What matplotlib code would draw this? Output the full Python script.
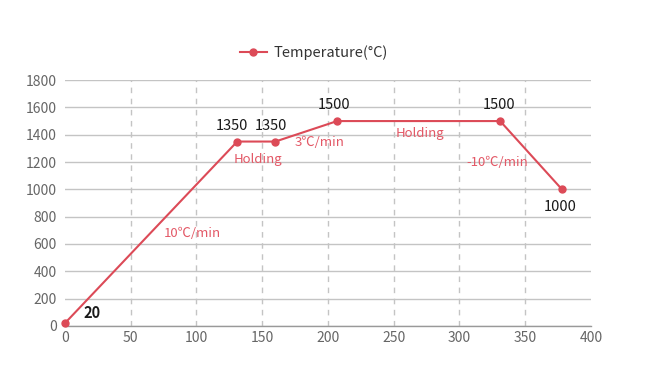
import numpy as np
import matplotlib
matplotlib.use("Agg")
import matplotlib.pyplot as plt

plt.rcParams['font.family'] = ['Noto Sans CJK SC', 'DejaVu Sans']

# data
time_min = [0, 131, 160, 207, 331, 378]
temperature = [20, 1350, 1350, 1500, 1500, 1000]
point_labels = ["20", "1350", "1350", "1500", "1500", "1000"]

# stage notes: (text, x, y)
stage_notes = [
    ("10℃/min", 97, 680),
    ("Holding", 147, 1222),
    ("3℃/min", 194, 1346),
    ("Holding", 270, 1412),
    ("-10℃/min", 329, 1200),
]

LINE_RED = "#dc4a57"
NOTE_RED = "#e35866"
GRID = "#c4c4c4"
TICK = "#666666"


def main():
    fig = plt.figure(figsize=(6.5, 3.87), dpi=100)
    ax = fig.add_axes([0.1, 0.158, 0.809, 0.635])

    ax.plot(time_min, temperature, color=LINE_RED, linewidth=1.5,
            marker="o", markersize=5, label="Temperature(°C)",
            clip_on=False, zorder=3)

    ax.set_xlim(0, 400)
    ax.set_ylim(0, 1800)
    ax.set_xticks(np.arange(0, 401, 50))
    ax.set_yticks(np.arange(0, 1801, 200))

    # grid: solid horizontal, dashed vertical (only inner ones)
    ax.yaxis.grid(True, color=GRID, linewidth=1, linestyle="-")
    ax.xaxis.grid(True, color=GRID, linewidth=1, linestyle=(0, (4, 4)))
    ax.set_axisbelow(True)
    xgl = ax.get_xgridlines()
    xgl[0].set_visible(False)
    xgl[-1].set_visible(False)

    for s in ["top", "right", "left"]:
        ax.spines[s].set_visible(False)
    ax.spines["bottom"].set_color("#999999")
    ax.spines["bottom"].set_linewidth(1)

    ax.tick_params(axis="y", length=0, labelsize=10, labelcolor=TICK, pad=6)
    ax.tick_params(axis="x", length=0, labelsize=10, labelcolor=TICK, pad=4)

    # value labels, offsets in points
    offsets = [(19.5, 7), (-3.5, 11), (-3.5, 11), (-2.5, 11.5), (-1, 11.5), (-1.5, -12.5)]
    for i, (x, y, lab) in enumerate(zip(time_min, temperature, point_labels)):
        dx, dy = offsets[i]
        ax.annotate(lab, xy=(x, y), xytext=(dx, dy), textcoords="offset points",
                    ha="center", va="center", fontsize=10.5, color="#1a1a1a",
                    fontweight="bold" if i == 0 else "normal")

    for text, x, y in stage_notes:
        ax.text(x, y, text, color=NOTE_RED, fontsize=9.5,
                ha="center", va="center")

    ax.legend(loc="center", bbox_to_anchor=(0.474, 1.11), frameon=False,
              fontsize=10.5, handlelength=1.8, handletextpad=0.5,
              labelcolor="#333333")

    fig.savefig("out.png", dpi=100)
    plt.close(fig)


if __name__ == "__main__":
    main()
